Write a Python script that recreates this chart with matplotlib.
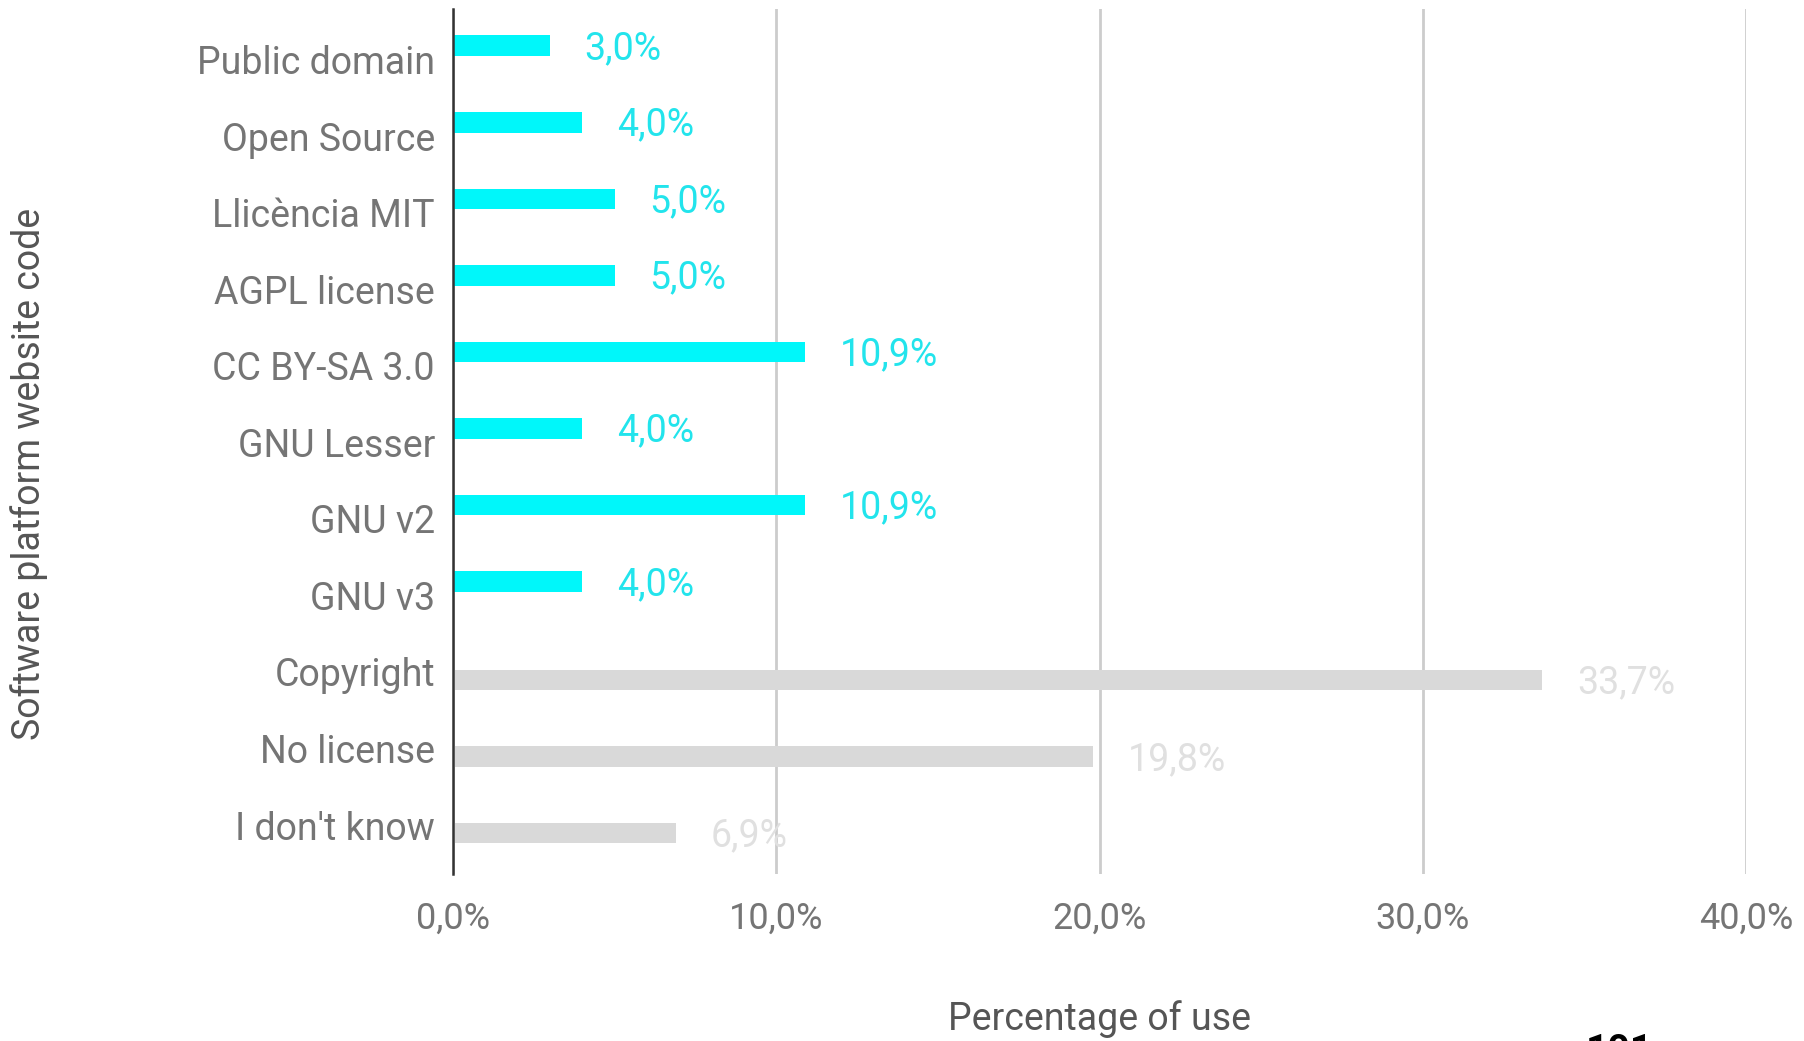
import matplotlib
matplotlib.use("Agg")
import matplotlib.pyplot as plt
import numpy as np

plt.rcParams['font.family'] = ['Roboto', 'DejaVu Sans']

categories = ["Public domain", "Open Source", "Llicència MIT", "AGPL license",
              "CC BY-SA 3.0", "GNU Lesser", "GNU v2", "GNU v3",
              "Copyright", "No license", "I don't know"]
licensed = [3.0, 4.0, 5.0, 5.0, 10.9, 4.0, 10.9, 4.0, 0, 0, 0]
unlicensed = [0, 0, 0, 0, 0, 0, 0, 0, 33.7, 19.8, 6.9]
xticks = [0, 10, 20, 30, 40]
xticklabels = ["0,0%", "10,0%", "20,0%", "30,0%", "40,0%"]

W, H = 1804, 1041
fig = plt.figure(figsize=(W / 100, H / 100), dpi=100)
ax = fig.add_axes([453 / W, 1 - 874 / H, (1746 - 453) / W, (874 - 9) / H])

y = np.arange(len(categories))
cyan = "#00F7FA"
cyan_txt = "#22E4EC"
grey = "#D9D9D9"
grey_txt = "#E0E0E0"

off_c, off_g = -0.18, 0.105
bh = 0.27
for i, v in enumerate(licensed):
    if v > 0:
        ax.barh(y[i] + off_c, v, height=bh, color=cyan, zorder=3)
        ax.annotate(f"{v:.1f}%".replace(".", ","), (v, y[i] + off_c),
                    xytext=(25, -2), textcoords="offset points",
                    va="center", ha="left", fontsize=27, color=cyan_txt)
for i, v in enumerate(unlicensed):
    if v > 0:
        ax.barh(y[i] + off_g, v, height=bh, color=grey, zorder=3)
        ax.annotate(f"{v:.1f}%".replace(".", ","), (v, y[i] + off_g),
                    xytext=(25, -2), textcoords="offset points",
                    va="center", ha="left", fontsize=27, color=grey_txt)

ax.set_xlim(0, 40)
ax.set_ylim(10.64, -0.66)
ax.set_yticks(y)
ax.set_yticklabels(categories, fontsize=27, color="#757575")
ax.set_xticks(xticks)
ax.set_xticklabels(xticklabels, fontsize=26, color="#757575")
ax.tick_params(axis="y", length=0, pad=13)
ax.tick_params(axis="x", length=0, pad=19)
for s in ["top", "right", "bottom"]:
    ax.spines[s].set_visible(False)
ax.spines["left"].set_color("#333333")
ax.spines["left"].set_linewidth(1.8)
ax.spines["left"].set_zorder(4)
ax.xaxis.grid(True, color="#CCCCCC", linewidth=2)
ax.set_axisbelow(True)
ax.set_facecolor("white")

fig.text(1100 / W, 1 - 1019 / H, "Percentage of use", ha="center", va="center",
         fontsize=27, color="#555555")
fig.text(29 / W, 1 - 474 / H, "Software platform website code", ha="center",
         va="center", rotation=90, fontsize=27, color="#555555")
fig.text(1586 / W, 1 - 1033 / H, "101", ha="left", va="top", fontsize=28,
         color="black", fontweight="bold")

fig.savefig("out.png", dpi=100, facecolor="white")
